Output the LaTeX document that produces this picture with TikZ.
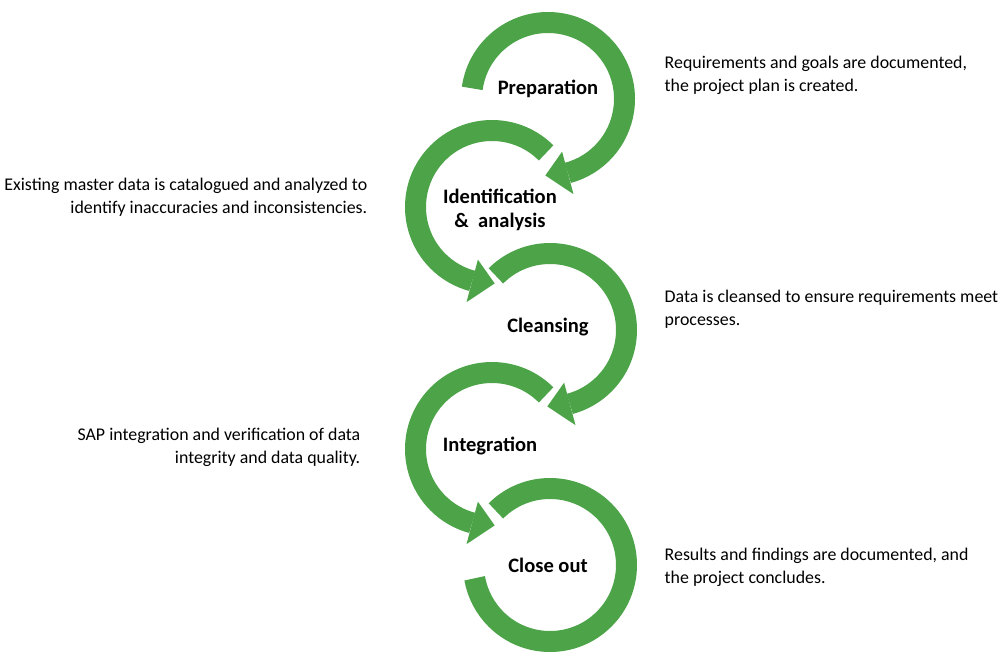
\documentclass[tikz,border=0pt]{standalone}
\usepackage{fontspec}
\setmainfont{Carlito}
\usetikzlibrary{calc}
\definecolor{grn}{RGB}{76,163,72}
\begin{document}
\begin{tikzpicture}[x=0.75pt,y=-0.75pt,
  ring/.style={draw=grn,line width=15.75pt},
  lbl/.style={font=\bfseries\fontsize{15.4}{17.5}\selectfont,align=center},
  txt/.style={font=\fontsize{13.4}{17.5}\selectfont}]
\useasboundingbox (0,0) rectangle (1000,657);
\coordinate (c1) at (548,99);
\coordinate (c2) at (492,207);
\coordinate (c3) at (550,330);
\coordinate (c4) at (492,449);
\coordinate (c5) at (550,565);
\draw[ring] ($(c1)+(188:76.5)$) arc[start angle=188,end angle=435,radius=76.5];
\fill[grn] ($(c1)+(435:98.5)$) -- ($(c1)+(435:54.5)$) -- ($(c1)+(452:76.5)$) -- cycle;
\draw[ring] ($(c2)+(-45:76.5)$) arc[start angle=-45,end angle=-255,radius=76.5];
\fill[grn] ($(c2)+(-255:98.5)$) -- ($(c2)+(-255:54.5)$) -- ($(c2)+(-272:76.5)$) -- cycle;
\draw[ring] ($(c3)+(-135:76.5)$) arc[start angle=-135,end angle=75,radius=76.5];
\fill[grn] ($(c3)+(75:98.5)$) -- ($(c3)+(75:54.5)$) -- ($(c3)+(92:76.5)$) -- cycle;
\draw[ring] ($(c4)+(-45:76.5)$) arc[start angle=-45,end angle=-255,radius=76.5];
\fill[grn] ($(c4)+(-255:98.5)$) -- ($(c4)+(-255:54.5)$) -- ($(c4)+(-272:76.5)$) -- cycle;
\draw[ring] ($(c5)+(-135:76.5)$) arc[start angle=-135,end angle=170,radius=76.5];
\node[lbl] (l1) at (548,89) {Preparation};
\node[lbl] (l2) at (500,210) {Identification\\\&\ \ analysis};
\node[lbl] (l3) at (548,327) {Cleansing};
\node[lbl] (l4) at (490,446) {Integration};
\node[lbl] (l5) at (548,565) {Close out};
\node[txt,anchor=west,align=left] (t1) at (660,75) {Requirements and goals are documented,\\the project plan is created.};
\node[txt,anchor=east,align=right] (t2) at (372,197) {Existing master data is catalogued and analyzed to\\identify inaccuracies and inconsistencies.};
\node[txt,anchor=west,align=left] (t3) at (660,309) {Data is cleansed to ensure requirements meet\\processes.};
\node[txt,anchor=east,align=right] (t4) at (365,447) {SAP integration and verification of data\\integrity and data quality.};
\node[txt,anchor=west,align=left] (t5) at (660,567) {Results and findings are documented, and\\the project concludes.};
\end{tikzpicture}
\end{document}
